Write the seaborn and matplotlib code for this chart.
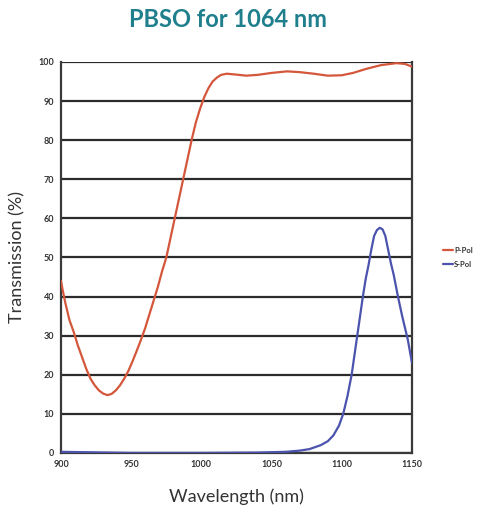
import matplotlib.pyplot as plt
import pandas as pd
import seaborn as sns

# values
p_wl = [900, 901, 903, 906, 909, 912, 915, 918, 921, 924, 927, 930, 933, 936,
        939, 942, 945, 948, 951, 954, 957, 960, 963, 966, 969, 972, 975, 978,
        981, 984, 987, 990, 993, 996, 999, 1002, 1005, 1008, 1011, 1014,
        1018, 1024, 1032, 1040, 1050, 1061, 1070, 1080, 1090, 1100, 1108,
        1118, 1128, 1139, 1145, 1150]
p_val = [44, 42, 38.5, 34, 31, 27.5, 24.5, 21.5, 19, 17.3, 16, 15.2, 14.8,
         15.1, 16, 17.3, 19, 21, 23.5, 26.2, 29, 32, 35.5, 39, 42.5, 46.5, 50,
         55, 60, 65, 70, 75, 80, 84.5, 88, 91, 93.3, 95, 96, 96.7, 97, 96.8,
         96.5, 96.7, 97.2, 97.6, 97.4, 97, 96.5, 96.6, 97.2, 98.3, 99.2, 99.7,
         99.5, 98.8]

s_wl = [900, 950, 1000, 1040, 1060, 1070, 1077, 1085, 1090, 1094, 1098,
        1101, 1104, 1107, 1111, 1115, 1117, 1119, 1121, 1123, 1125, 1127,
        1129, 1131, 1133, 1135, 1137, 1140, 1143, 1147, 1150]
s_val = [0.3, 0, 0, 0.1, 0.3, 0.6, 1.0, 2.0, 3.0, 4.5, 7, 10, 14.5, 20, 30,
         40, 44.5, 48, 52, 55.5, 57, 57.6, 57.2, 55.5, 52, 48.5, 45.5, 40, 35,
         29, 23]

df = pd.concat([
    pd.DataFrame({'Wavelength': p_wl, 'Transmission': p_val, 'Pol': 'P-Pol'}),
    pd.DataFrame({'Wavelength': s_wl, 'Transmission': s_val, 'Pol': 'S-Pol'}),
])

sns.set_style('white')
plt.rcParams['font.family'] = ['Lato', 'DejaVu Sans']

fig = plt.figure(figsize=(4.85, 5.08), dpi=100)
ax = fig.add_axes([0.1258, 0.1083, 0.7237, 0.7697])

sns.lineplot(data=df, x='Wavelength', y='Transmission', hue='Pol',
             palette={'P-Pol': '#d4573c', 'S-Pol': '#4b53ad'},
             lw=1.6, ax=ax, zorder=3, sort=False)

ax.set_xlim(900, 1150)
ax.set_ylim(0, 100)
ax.set_xticks(range(900, 1151, 50))
ax.set_yticks(range(0, 101, 10))
ax.grid(axis='y', color='#2b2b2b', lw=1.6, zorder=1)
for side in ['left', 'right', 'bottom']:
    ax.spines[side].set_color('#3a3a3a')
    ax.spines[side].set_linewidth(1.6)
ax.spines['top'].set_visible(False)
ax.tick_params(axis='both', labelsize=6.5, length=3, width=1, color='#3a3a3a',
               pad=2)
for lab in ax.get_xticklabels() + ax.get_yticklabels():
    lab.set_fontweight('bold')
    lab.set_color('#333333')

ax.set_xlabel('Wavelength (nm)', fontsize=13, color='#333333', labelpad=14)
ax.set_ylabel('Transmission (%)', fontsize=13, color='#333333', labelpad=9)

leg = ax.legend(loc='center left', bbox_to_anchor=(1.07, 0.5), frameon=False,
                fontsize=5.5, handlelength=1.2, handletextpad=0.2,
                labelspacing=0.9)
for t in leg.get_texts():
    t.set_fontweight('bold')
    t.set_color('#333333')

fig.suptitle('PBSO for 1064 nm', x=0.47, y=0.985, fontsize=17,
             fontweight='bold', color='#1f7f8c')

plt.savefig('out.png', dpi=100)
